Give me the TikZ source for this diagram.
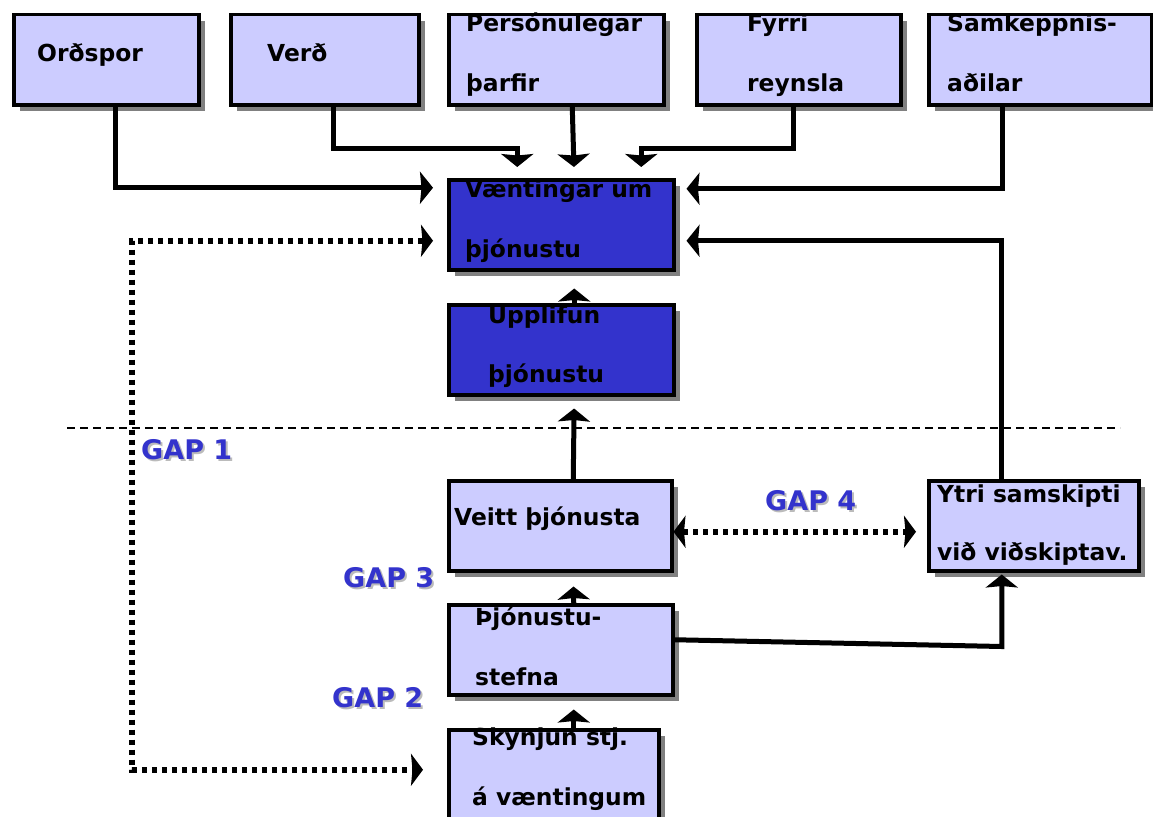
\documentclass[tikz,border=0pt]{standalone}
\usepackage{fontspec}
\setmainfont{DejaVu Sans}
\usetikzlibrary{arrows.meta}
\usetikzlibrary{positioning}
\usetikzlibrary{shadows}
\usetikzlibrary{calc}

\definecolor{lilac}{HTML}{CCCCFF}
\definecolor{deepblue}{HTML}{3333CC}
\definecolor{gapgray}{HTML}{BBBBBB}

\tikzset{
  box/.style={draw, line width=3.5pt, fill=lilac, anchor=north west, inner sep=0pt,
    minimum height=90pt,
    drop shadow={shadow xshift=6pt, shadow yshift=-6pt, fill=gray, opacity=1}},
  darkbox/.style={box, fill=deepblue},
  txt/.style={anchor=base west, inner sep=0pt, font=\fontsize{23.4}{28}\selectfont\bfseries},
  gaptxt/.style={anchor=base west, inner sep=0pt, text=deepblue,
    font=\fontsize{27}{32}\selectfont\bfseries},
  gapshade/.style={gaptxt, text=gapgray},
  link/.style={line width=5pt, -{Stealth[length=13pt,width=32pt,inset=1.5pt]}},
  dots/.style={line width=6pt, dash pattern=on 5pt off 5pt,
    {Stealth[length=12pt,width=32pt,inset=1.5pt]}-{Stealth[length=12pt,width=32pt,inset=1.5pt]}},
}

\begin{document}
\begin{tikzpicture}[line join=miter,x=1pt,y=-1pt]
\useasboundingbox (0,0) rectangle (1153,816);
\clip (0,0) rectangle (1153,816);
% top row
\node[box, minimum width=185pt] (ordspor) at (12,13) {};
\node[box, minimum width=188pt] (verd) at (229,13) {};
\node[box, minimum width=215pt] (personul) at (447,13) {};
\node[box, minimum width=204pt] (fyrri) at (695,13) {};
\node[box, minimum width=223pt] (samkeppni) at (927,13) {};
\node[txt] (ordsporA) at (37,62) {Orðspor};
\node[txt] (verdA) at (267,62) {Verð};
\node[txt] (personulA) at (466,32) {Persónulegar};
\node[txt] (personulB) at (466,92) {þarfir};
\node[txt] (fyrriA) at (747,32) {Fyrri};
\node[txt] (fyrriB) at (747,92) {reynsla};
\node[txt] (samkeppniA) at (947,32) {Samkeppnis-};
\node[txt] (samkeppniB) at (947,92) {aðilar};
% middle column
\node[darkbox, minimum width=225pt] (vaent) at (447,178) {};
\node[darkbox, minimum width=225pt] (upplif) at (447,303) {};
\node[box, minimum width=223pt] (veitt) at (447,479) {};
\node[box, minimum width=210pt] (ytri) at (927,479) {};
\node[box, minimum width=224pt] (stefna) at (447,603) {};
\node[box, minimum width=210pt] (skynjun) at (447,728) {};
\node[txt] (vaentA) at (465,197) {Væntingar um};
\node[txt] (vaentB) at (465,257) {þjónustu};
\node[txt] (upplifA) at (488,323) {Upplifun};
\node[txt] (upplifB) at (488,382) {þjónustu};
\node[txt] (veittA) at (454,525) {Veitt þjónusta};
\node[txt] (ytriA) at (937,502) {Ytri samskipti};
\node[txt] (ytriB) at (937,560) {við viðskiptav.};
\node[txt] (stefnaA) at (475,625) {Þjónustu-};
\node[txt] (stefnaB) at (475,685) {stefna};
\node[txt] (skynjunA) at (472,745) {Skynjun stj.};
\node[txt] (skynjunB) at (472,805) {á væntingum};
% gap labels
\node[gapshade] (gaponeS) at (143,461) {GAP 1};
\node[gaptxt] (gapone) at (141,459) {GAP 1};
\node[gapshade] (gapthreeS) at (345,589) {GAP 3};
\node[gaptxt] (gapthree) at (343,587) {GAP 3};
\node[gapshade] (gaptwoS) at (334,709) {GAP 2};
\node[gaptxt] (gaptwo) at (332,707) {GAP 2};
\node[gapshade] (gapfourS) at (767,512) {GAP 4};
\node[gaptxt] (gapfour) at (765,510) {GAP 4};
% line of visibility
\coordinate (lineL) at (67,428);
\coordinate (lineR) at (1120,428);
\draw[line width=2pt, dash pattern=on 8pt off 5pt] (lineL) -- (lineR);
% inputs to expectations
\draw[link, shorten >=14pt] ($(ordspor.south)+(9,0)$) |- ($(vaent.west)+(0,-37)$);
\draw[link, shorten >=11pt] ($(verd.south)+(9,0)$) -- ++(0,42) -| ($(vaent.north)+(-44,0)$);
\draw[link, shorten >=11pt] ($(personul.south)+(16,0)$) -- ($(vaent.north)+(13,0)$);
\draw[link, shorten >=11pt] ($(fyrri.south)+(-5,0)$) -- ++(0,42) -| ($(vaent.north)+(80,0)$);
\draw[link, shorten >=11pt] ($(samkeppni.south)+(-38,0)$) |- ($(vaent.east)+(0,-36)$);
\draw[link, shorten >=11pt] ($(ytri.north)+(-32,0)$) |- ($(vaent.east)+(0,16)$);
% main column
\draw[link, shorten >=17pt] ($(upplif.north)+(13,0)$) -- ($(vaent.south)+(13,0)$);
\draw[link, shorten >=12pt] ($(veitt.north)+(13,0)$) -- ($(upplif.south)+(13,0)$);
\draw[link, shorten >=14pt] ($(stefna.north)+(13,0)$) -- ($(veitt.south)+(13,0)$);
\draw[link, shorten >=13pt] ($(skynjun.north)+(20,0)$) -- ($(stefna.south)+(13,0)$);
\draw[link, shorten >=2pt] ($(stefna.east)+(0,-10)$) -- ($(ytri.south)+(-32,74)$) -- ($(ytri.south)+(-32,0)$);
% gaps 1 and 4
\coordinate (gapbend) at (132,500);
\draw[dots, shorten <=14pt, shorten >=24pt] ($(vaent.west)+(0,16)$) -| (gapbend) |- ($(skynjun.west)+(0,-5)$);
\draw[dots, shorten >=11pt] ($(veitt.east)+(0,6)$) -- ($(ytri.west)+(0,6)$);
\end{tikzpicture}
\end{document}
